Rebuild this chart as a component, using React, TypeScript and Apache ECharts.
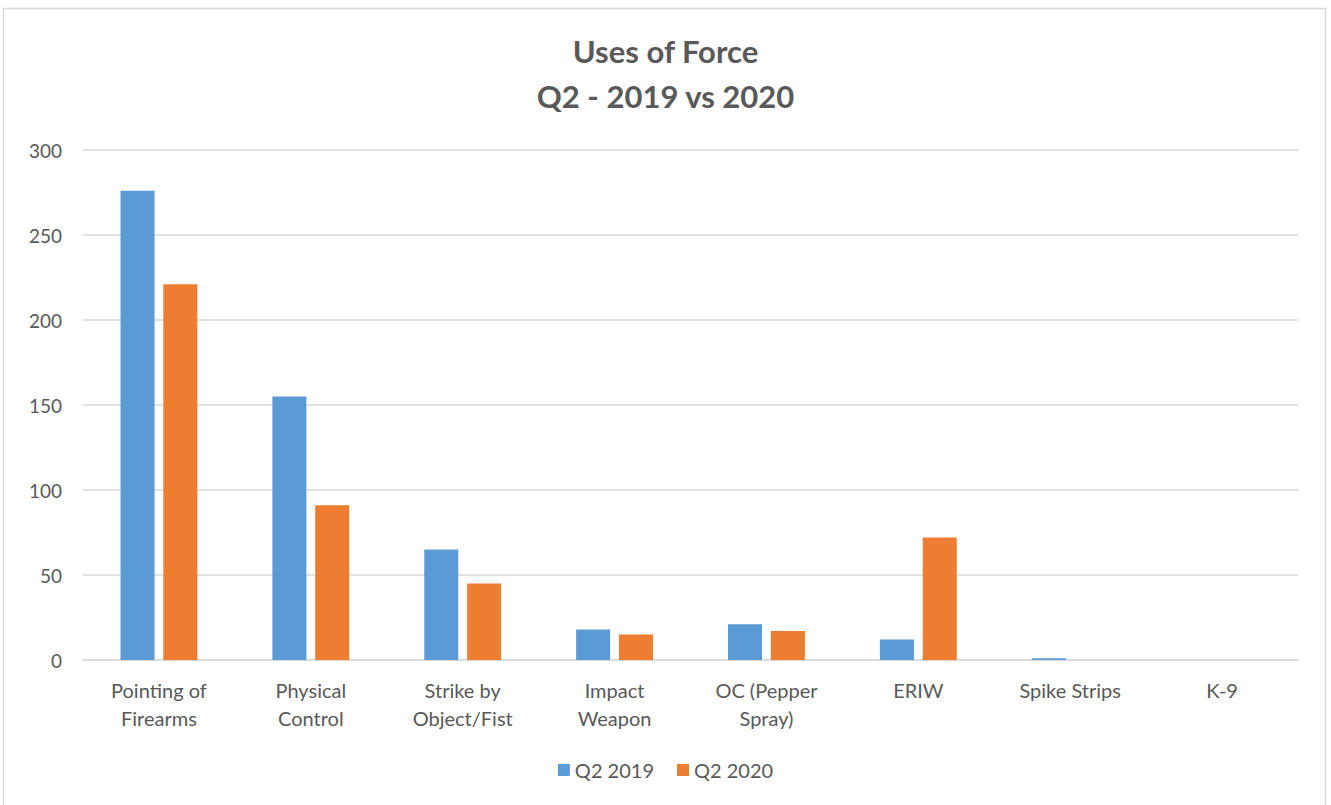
import React, { useEffect, useRef } from "react";
import * as echarts from "echarts";

const categories = [
  "Pointing of\nFirearms",
  "Physical\nControl",
  "Strike by\nObject/Fist",
  "Impact\nWeapon",
  "OC (Pepper\nSpray)",
  "ERIW",
  "Spike Strips",
  "K-9",
];
const q2_2019 = [276, 155, 65, 18, 21, 12, 1, 0];
const q2_2020 = [221, 91, 45, 15, 17, 72, 0, 0];
const seriesNames = ["Q2 2019", "Q2 2020"];
const yTicks = { min: 0, max: 300, interval: 50 };

const FONT = "Lato, 'Open Sans', sans-serif";

export default function App() {
  const ref = useRef<HTMLDivElement>(null);
  useEffect(() => {
    if (!ref.current) return;
    const chart = echarts.init(ref.current, undefined, { renderer: "svg" });
    chart.setOption({
      animation: false,
      backgroundColor: "#ffffff",
      textStyle: { fontFamily: FONT },
      title: {
        text: "Uses of Force\nQ2 - 2019 vs 2020",
        left: "center",
        top: 23,
        textStyle: {
          fontFamily: FONT,
          fontSize: 31,
          fontWeight: "bold",
          color: "#595959",
          lineHeight: 45,
        },
      },
      graphic: [
        {
          type: "rect",
          shape: { x: 3.5, y: 8.5, width: 1322, height: 800 },
          style: { fill: "none", stroke: "#d9d9d9", lineWidth: 1.5 },
          silent: true,
        },
      ],
      legend: {
        bottom: 20,
        left: "center",
        itemWidth: 12,
        itemHeight: 12,
        itemGap: 23,
        icon: "rect",
        textStyle: { fontFamily: FONT, fontSize: 20, color: "#595959" },
        data: seriesNames,
      },
      grid: { left: 83, right: 33, top: 150, bottom: 145, containLabel: false },
      xAxis: {
        type: "category",
        data: categories,
        axisLine: { show: true, lineStyle: { color: "#d9d9d9", width: 1.5 } },
        axisTick: { show: false },
        axisLabel: {
          fontFamily: FONT,
          fontSize: 20,
          color: "#595959",
          lineHeight: 28,
          margin: 16,
          interval: 0,
        },
      },
      yAxis: {
        type: "value",
        min: yTicks.min,
        max: yTicks.max,
        interval: yTicks.interval,
        axisLine: { show: false },
        axisTick: { show: false },
        splitLine: { lineStyle: { color: "#d9d9d9", width: 1.5 } },
        axisLabel: { fontFamily: FONT, fontSize: 19, color: "#595959", margin: 21 },
      },
      series: [
        {
          name: seriesNames[0],
          type: "bar",
          data: q2_2019,
          barWidth: 34,
          barGap: "26%",
          itemStyle: { color: "#5b9bd5" },
        },
        {
          name: seriesNames[1],
          type: "bar",
          data: q2_2020,
          barWidth: 34,
          barGap: "26%",
          itemStyle: { color: "#ed7d31" },
        },
      ],
    });
    return () => chart.dispose();
  }, []);
  return (
    <div
      ref={ref}
      style={{ position: "fixed", left: 0, top: 0, width: 1331, height: 805 }}
    />
  );
}
